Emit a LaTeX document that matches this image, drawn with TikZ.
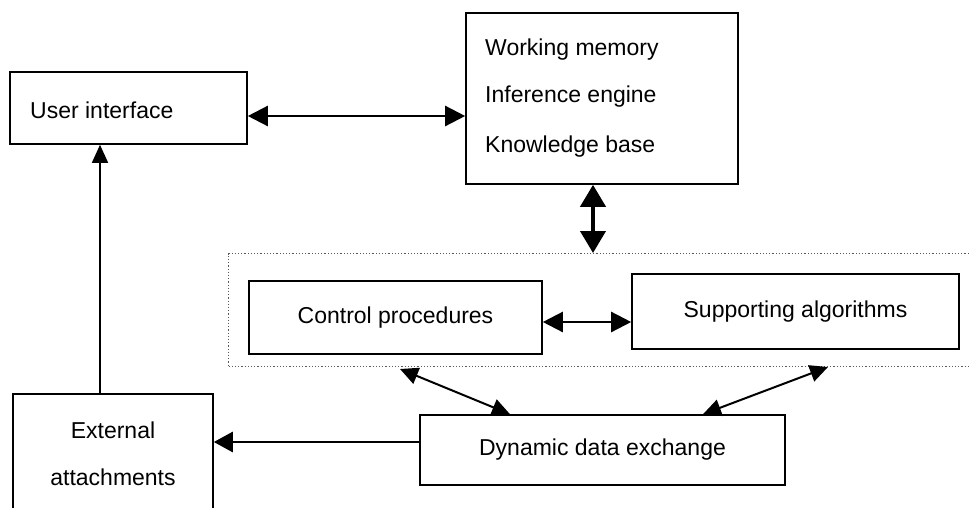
\documentclass[tikz,border=0pt]{standalone}
\usepackage{fontspec}
\setmainfont{Liberation Sans}
\usetikzlibrary{arrows.meta}
\begin{document}
\begin{tikzpicture}[x=1pt,y=-1pt,
  box/.style={draw, line width=1.6pt, inner sep=0pt, font=\fontsize{23}{27}\selectfont},
  lbl/.style={inner sep=0pt, font=\fontsize{23}{27}\selectfont},
  grpbox/.style={draw=black!65, dotted, line width=1.2pt, inner sep=0pt},
  con/.style={line width=2.4pt, {Triangle[length=20pt,width=20pt]}-{Triangle[length=20pt,width=20pt]}},
  bigcon/.style={line width=4pt, {Triangle[length=22pt,width=25pt]}-{Triangle[length=22pt,width=25pt]}},
  diag/.style={line width=2pt, {Triangle[length=18pt,width=17pt]}-{Triangle[length=18pt,width=17pt]}},
  onecon/.style={line width=2.8pt, -{Triangle[length=19pt,width=20pt]}},
  thincon/.style={line width=1.5pt, -{Triangle[length=18pt,width=16pt]}}]
\clip (0,0) rectangle (969,507);
\fill[white] (0,0) rectangle (969,507);

% dotted group (open to the right, beyond the page)
\node[grpbox, minimum width=800pt, minimum height=113pt, anchor=north west] (grp) at (228,253) {};

% boxes
\node[box, minimum width=237pt, minimum height=72pt] (ui) at (128.5,108) {};
\node[lbl, anchor=west] (uit) at (30,110) {User interface};

\node[box, minimum width=272pt, minimum height=171pt] (kb) at (602,98.5) {};
\node[lbl, anchor=west] (kb1) at (485,50) {Working memory};
\node[lbl, anchor=west] (kb2) at (485,97) {Inference engine};
\node[lbl, anchor=west] (kb3) at (485,147) {Knowledge base};

\node[box, minimum width=293pt, minimum height=73pt] (ctrl) at (395.5,317.5) {Control procedures};
\node[box, minimum width=327pt, minimum height=75pt] (sup) at (795.5,311.5) {Supporting algorithms};
\node[box, minimum width=365pt, minimum height=70pt] (dde) at (602.5,450) {Dynamic data exchange};

\node[box, minimum width=200pt, minimum height=160pt, anchor=north] (ext) at (113,393) {};
\node[lbl] (ext1) at (113,430) {External};
\node[lbl] (ext2) at (113,477) {attachments};

% helper coordinates
\coordinate (y116) at (0,116);
\coordinate (x593) at (593,0);
\coordinate (y322) at (0,322);
\coordinate (y442) at (0,442);
\coordinate (x100) at (100,0);
\coordinate (dl) at (400,369);
\coordinate (dr) at (828,367);
\coordinate (x510) at (510,0);
\coordinate (x703) at (703,0);

% connectors
\draw[con] (ui.east |- y116) -- (kb.west |- y116);
\draw[bigcon] (kb.south -| x593) -- (grp.north -| x593);
\draw[con] (ctrl.east |- y322) -- (sup.west |- y322);
\draw[diag] (dl) -- (dde.north -| x510);
\draw[diag] (dr) -- (dde.north -| x703);
\draw[onecon] (dde.west |- y442) -- (ext.east |- y442);
\draw[thincon] (ext.north -| x100) -- (ui.south -| x100);
\end{tikzpicture}
\end{document}
